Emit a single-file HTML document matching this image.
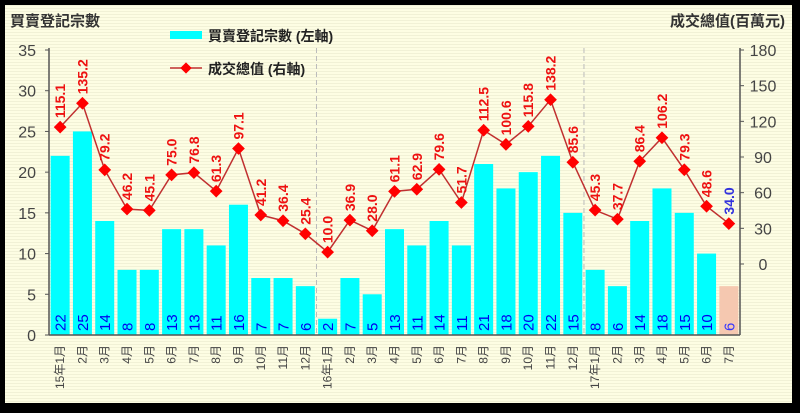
<!DOCTYPE html>
<html><head><meta charset="utf-8"><style>
body{margin:0;background:#000;}
svg{display:block;font-family:"Liberation Sans","Noto Sans CJK TC",sans-serif;}
</style></head><body>
<svg id="c" width="800" height="413">
<defs><pattern id="st" width="4" height="3" patternUnits="userSpaceOnUse"><rect width="4" height="3" fill="#fdfde3"/><rect y="2" width="4" height="1" fill="#f1f1d6"/></pattern></defs>
<rect x="5" y="5" width="787" height="398" fill="url(#st)"/>
<text x="10" y="26" font-size="15" font-weight="bold" fill="#333">買賣登記宗數</text>
<text x="785" y="26" font-size="15" font-weight="bold" fill="#333" text-anchor="end">成交總值(百萬元)</text>
<g>
<rect x="170" y="31" width="32" height="8" fill="#00ffff"/>
<text x="208" y="41" font-size="14" font-weight="bold" fill="#222">買賣登記宗數 (左軸)</text>
<line x1="170" y1="68" x2="202" y2="68" stroke="#c03030" stroke-width="1.5"/>
<rect x="182" y="64" width="8" height="8" fill="#f00" transform="rotate(45 186 68)"/>
<text x="208" y="74" font-size="14" font-weight="bold" fill="#222">成交總值 (右軸)</text>
</g>
<g id="g"></g>
</svg>
<script>
const months=["15年1月","2月","3月","4月","5月","6月","7月","8月","9月","10月","11月","12月","16年1月","2月","3月","4月","5月","6月","7月","8月","9月","10月","11月","12月","17年1月","2月","3月","4月","5月","6月","7月"];
const counts=[22,25,14,8,8,13,13,11,16,7,7,6,2,7,5,13,11,14,11,21,18,20,22,15,8,6,14,18,15,10,6];
const values=[115.1,135.2,79.2,46.2,45.1,75.0,76.8,61.3,97.1,41.2,36.4,25.4,10.0,36.9,28.0,61.1,62.9,79.6,51.7,112.5,100.6,115.8,138.2,85.6,45.3,37.7,86.4,106.2,79.3,48.6,34.0];
const leftTicks=[0,5,10,15,20,25,30,35];
const rightTicks=[0,30,60,90,120,150,180];
const yearStarts=[12,24];

const NS="http://www.w3.org/2000/svg";
const g=document.getElementById('g');
const X0=49,X1=740,slot=(X1-X0)/months.length;
const yL=v=>335-v*(285/35);
const yR=v=>264-v*(214/180);
const xc=i=>X0+slot*(i+0.5);
function el(t,a,txt){const e=document.createElementNS(NS,t);for(const k in a)e.setAttribute(k,a[k]);if(txt!==undefined)e.textContent=txt;g.appendChild(e);return e;}

yearStarts.forEach((s,i)=>{
const e=el('line',{x1:X0+slot*s,x2:X0+slot*s,y1:48,y2:335,stroke:'#bbb','stroke-dasharray':'5,3'});


});
counts.forEach((c,i)=>{
const last=i===counts.length-1;
const r=el('rect',{x:xc(i)-9.5,y:yL(c),width:19,height:335-yL(c),fill:last?'#f5c8b0':'#00ffff'});


const t=el('text',{x:0,y:0,'font-size':15,fill:last?'#3333ff':'#0000ee',transform:`translate(${xc(i)+5.5},${331}) rotate(-90)`},c);


});
el('line',{x1:X0,x2:X0,y1:48,y2:335,stroke:'#555','stroke-width':1.5});
el('line',{x1:X0,x2:X1,y1:335,y2:335,stroke:'#555','stroke-width':1.5});
el('line',{x1:X1,x2:X1,y1:48,y2:335,stroke:'#555','stroke-width':1.5});
leftTicks.forEach(v=>{
el('line',{x1:X0-4,x2:X0,y1:yL(v),y2:yL(v),stroke:'#555'});
const t=el('text',{x:36,y:yL(v)+6,'font-size':16,fill:'#444','text-anchor':'end'},v);


});
rightTicks.forEach(v=>{
el('line',{x1:X1,x2:X1+4,y1:yR(v),y2:yR(v),stroke:'#555'});
const t=el('text',{x:763,y:yR(v)+6,'font-size':16,fill:'#444','text-anchor':'middle'},v);


});
months.forEach((m,i)=>{
const t=el('text',{x:0,y:0,'font-size':12,fill:'#444','text-anchor':'end',transform:`translate(${xc(i)+4},${345}) rotate(-90)`},m);


});
const pl=el('polyline',{points:values.map((v,i)=>xc(i)+','+yR(v)).join(' '),fill:'none',stroke:'#c03030','stroke-width':1.5});


values.forEach((v,i)=>{
const x=xc(i),y=yR(v);
const m=el('rect',{x:x-4.5,y:y-4.5,width:9,height:9,fill:'#f00',transform:`rotate(45 ${x} ${y})`});


const last=i===values.length-1;
const t=el('text',{x:0,y:0,'font-size':14,'font-weight':'bold',fill:last?'#3333dd':'#ee1111',transform:`translate(${x+5},${y-9}) rotate(-90)`},v.toFixed(1));


});
</script>
</body></html>
